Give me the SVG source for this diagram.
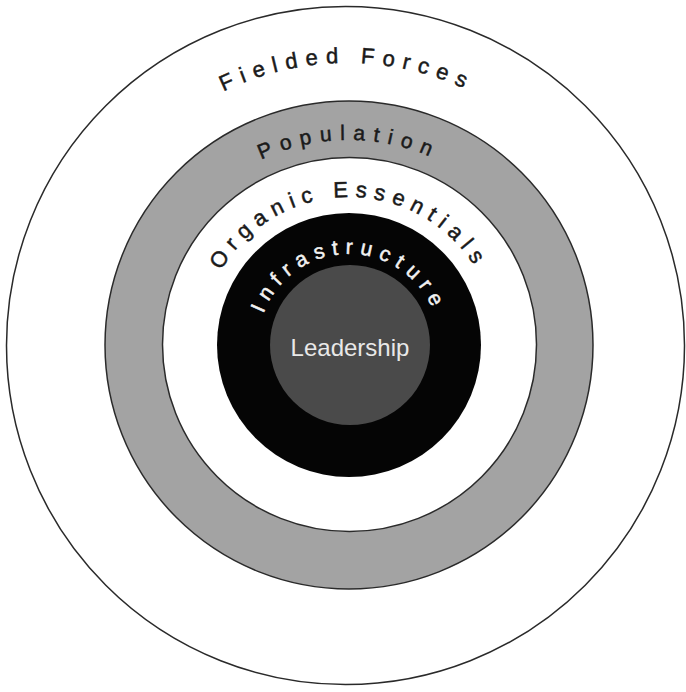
<svg xmlns="http://www.w3.org/2000/svg" width="686" height="692" viewBox="0 0 686 692">
  <defs>
    <style>
      .ring { stroke: #2a2a2a; stroke-width: 1.5; }
      .arc { font-family: "Liberation Sans", Arial, sans-serif; text-anchor: middle; stroke-width: 0.5; }
      .dark { fill: #1a1a1a; stroke: #1a1a1a; }
      .light { fill: #f2f2f2; stroke: #f2f2f2; }
    </style>
    <path id="pFielded" d="M 65,345 A 282,282 0 0 1 629,345"/>
    <path id="pPopulation" d="M 144,345 A 205,205 0 0 1 554,345"/>
    <path id="pOrganic" d="M 201,345 A 148,148 0 0 1 497,345"/>
    <path id="pInfra" d="M 258,345 A 91,91 0 0 1 440,345"/>
  </defs>
  <rect width="686" height="692" fill="#ffffff"/>

  <g id="fielded-forces">
    <circle class="ring" cx="345.5" cy="345.5" r="339" fill="#ffffff"/>
    <text class="arc dark" font-size="22" letter-spacing="7.9"><textPath href="#pFielded" startOffset="50%">Fielded Forces</textPath></text>
  </g>

  <g id="population">
    <circle class="ring" cx="349" cy="345" r="244" fill="#a3a3a3" stroke-width="2"/>
    <text class="arc dark" font-size="21" letter-spacing="8.2"><textPath href="#pPopulation" startOffset="50%">Population</textPath></text>
  </g>

  <g id="organic-essentials">
    <circle class="ring" cx="349.5" cy="344.5" r="187" fill="#ffffff"/>
    <text class="arc dark" font-size="22" letter-spacing="7"><textPath href="#pOrganic" startOffset="50%">Organic Essentials</textPath></text>
  </g>

  <g id="infrastructure">
    <circle cx="349" cy="345" r="132" fill="#050505"/>
    <text class="arc light" font-size="21" letter-spacing="7"><textPath href="#pInfra" startOffset="50%">Infrastructure</textPath></text>
  </g>

  <g id="leadership">
    <circle cx="350" cy="345" r="80" fill="#4a4a4a"/>
    <text x="350" y="356" font-family="Liberation Sans, Arial, sans-serif" font-size="24" fill="#e8e8e8" text-anchor="middle">Leadership</text>
  </g>
</svg>
